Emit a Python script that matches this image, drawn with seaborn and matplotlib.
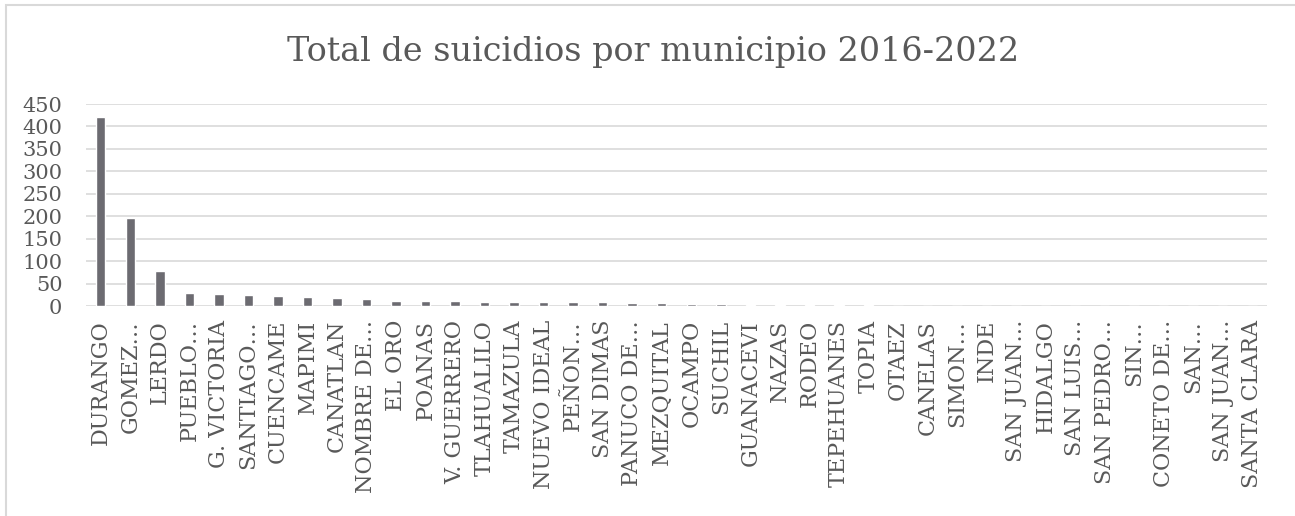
import numpy as np
import pandas as pd
import matplotlib as mpl
import matplotlib.pyplot as plt
import seaborn as sns

### DATA ###
municipios = [
    "DURANGO", "GOMEZ…", "LERDO", "PUEBLO…", "G. VICTORIA", "SANTIAGO…",
    "CUENCAME", "MAPIMI", "CANATLAN", "NOMBRE DE…", "EL ORO", "POANAS",
    "V. GUERRERO", "TLAHUALILO", "TAMAZULA", "NUEVO IDEAL", "PEÑON…",
    "SAN DIMAS", "PANUCO DE…", "MEZQUITAL", "OCAMPO", "SUCHIL", "GUANACEVI",
    "NAZAS", "RODEO", "TEPEHUANES", "TOPIA", "OTAEZ", "CANELAS", "SIMON…",
    "INDE", "SAN JUAN…", "HIDALGO", "SAN LUIS…", "SAN PEDRO…", "SIN…",
    "CONETO DE…", "SAN…", "SAN JUAN…", "SANTA CLARA",
]
suicidios = [
    420, 197, 78, 28, 27, 25,
    22, 20, 18, 16, 11, 11,
    11, 10, 9, 9, 8,
    8, 7, 6, 5, 4, 3,
    3, 3, 3, 2, 1, 0, 0,
    0, 0, 0, 0, 0, 0,
    0, 0, 0, 0,
]
y_ticks = list(range(0, 451, 50))
title = "Total de suicidios por municipio 2016-2022"

BAR_COLOR = "#6c6b71"
GRID_COLOR = "#d9d9d9"
TEXT_COLOR = "#595959"


### PLOT ###
def build_dataframe():
    # positions keep duplicated labels (two "SAN JUAN…") as separate bars
    df = pd.DataFrame({"pos": np.arange(len(municipios)), "Municipio": municipios, "Total": suicidios})
    return df


def plot_totals(df):
    sns.set_style("white")
    plt.rcParams["font.family"] = ["DejaVu Serif"]
    fig = plt.figure(figsize=(12.95, 5.16), dpi=100)
    W, H = 1295, 516
    ax = fig.add_axes([86 / W, 1 - 306 / H, (1267 - 86) / W, (306 - 104) / H])

    sns.barplot(data=df, x="pos", y="Total", color=BAR_COLOR, width=0.32,
                saturation=1, ax=ax, zorder=3)

    ax.set_ylim(0, 450)
    ax.set_yticks(y_ticks)
    ax.set_yticklabels([str(t) for t in y_ticks], fontsize=15, color=TEXT_COLOR)
    ax.set_xticks(df["pos"])
    ax.set_xticklabels(df["Municipio"], rotation=90, fontsize=16, color=TEXT_COLOR)
    ax.tick_params(axis="y", length=0, pad=17)
    ax.tick_params(axis="x", length=0, pad=10)
    ax.set_xlabel("")
    ax.set_ylabel("")
    for s in ax.spines.values():
        s.set_visible(False)
    for t in y_ticks:
        ax.axhline(t, color=GRID_COLOR, lw=1.2, zorder=1)

    fig.text(653 / W, 1 - 52 / H, title, ha="center", va="center",
             fontsize=24, color=TEXT_COLOR)

    # chart area frame, like the spreadsheet chart border
    frame = mpl.patches.Rectangle((6 / W, -0.05), 1.1, 1 - 5 / H + 0.05,
                                  transform=fig.transFigure, fill=False,
                                  edgecolor=GRID_COLOR, lw=1.5)
    fig.patches.append(frame)

    fig.savefig("out.png", dpi=100, facecolor="white")


if __name__ == '__main__':
    df = build_dataframe()
    plot_totals(df)
